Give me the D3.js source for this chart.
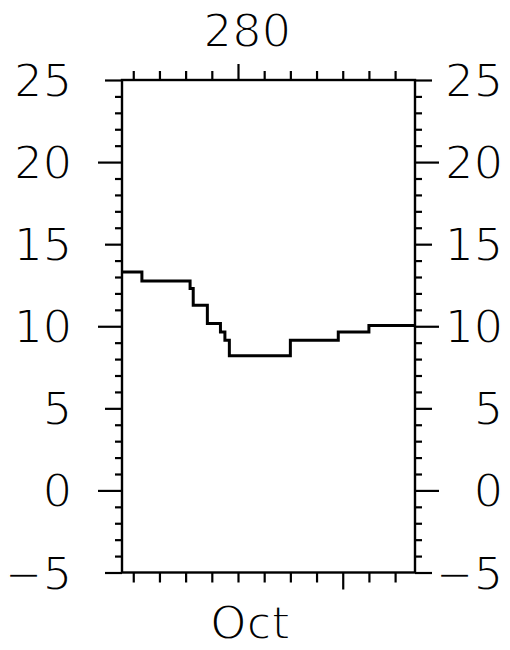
<!DOCTYPE html>
<html>
<head>
<meta charset="utf-8">
<script src="https://cdn.jsdelivr.net/npm/d3@7"></script>
<style>
  html, body { margin: 0; padding: 0; background: #fff; }
  svg { display: block; }
  .lbl { font-family: "DejaVu Sans", sans-serif; font-size: 46px; fill: #000; stroke: #fff; stroke-width: 1.8px; }
</style>
</head>
<body>
<svg id="chart" width="510" height="650"></svg>
<script>
// ---- data ----
const titleText = "280";
const xAxisLabel = "Oct";
const xTickDays = [276, 277, 278, 279, 280, 281, 282, 283, 284, 285, 286];
const xMajorTop = 280;
const xMajorBottom = 284;
const xDomain = [275.57, 286.76];
const yDomain = [-5, 25];
const yTickValues = d3.range(-5, 26, 1);
const yLabelValues = [-5, 0, 5, 10, 15, 20, 25];
const stepDays   = [275.57, 276.33, 278.17, 278.29, 278.83, 279.33, 279.5, 279.67, 282.0, 283.83, 285.0, 286.76];
const stepValues = [13.3,   12.75,  12.3,   11.28,  10.16,  9.65,   9.15,  8.2,    9.15,  9.65,   10.05, 10.05];

// ---- layout ----
const L = 122, R = 415, T = 80, B = 572.5;
const svg = d3.select("#chart");
const x = d3.scaleLinear().domain(xDomain).range([L, R]);
const y = d3.scaleLinear().domain(yDomain).range([B, T]);

function fmtY(v) { return yLabelValues.includes(v) ? (v < 0 ? "\u2212" + Math.abs(v) : String(v)) : ""; }
function ySize(v) { return v % 10 === 0 ? 24 : (v % 5 === 0 ? 17 : 7); }

// left axis
const gL = svg.append("g").attr("transform", `translate(${L},0)`)
  .call(d3.axisLeft(y).tickValues(yTickValues).tickSize(7).tickPadding(43).tickFormat(fmtY));
gL.selectAll(".tick line").attr("x2", d => -ySize(d));
// right axis
const gR = svg.append("g").attr("transform", `translate(${R},0)`)
  .call(d3.axisRight(y).tickValues(yTickValues).tickSize(7).tickPadding(81).tickFormat(fmtY));
gR.selectAll(".tick line").attr("x2", d => ySize(d));
gR.selectAll(".tick text").attr("text-anchor", "end");
// top axis
const gT = svg.append("g").attr("transform", `translate(0,${T})`)
  .call(d3.axisTop(x).tickValues(xTickDays).tickSize(9).tickFormat(""));
gT.selectAll(".tick line").attr("y2", d => d === xMajorTop ? -16 : -9);
// bottom axis
const gB = svg.append("g").attr("transform", `translate(0,${B})`)
  .call(d3.axisBottom(x).tickValues(xTickDays).tickSize(10).tickFormat(""));
gB.selectAll(".tick line").attr("y2", d => d === xMajorBottom ? 17 : 10);

svg.selectAll(".tick line").attr("stroke", "#000").attr("stroke-width", 2.2);
svg.selectAll(".tick text").attr("class", "lbl").attr("font-size", null).attr("font-family", null)
  .attr("fill", null).attr("dy", "0.36em");

// frame
svg.selectAll(".domain").remove();
svg.append("rect").attr("x", L).attr("y", T).attr("width", R - L).attr("height", B - T)
  .attr("fill", "none").attr("stroke", "#000").attr("stroke-width", 2.4);

// step line
const line = d3.line().x((d, i) => x(stepDays[i])).y((d, i) => y(stepValues[i])).curve(d3.curveStepAfter);
svg.append("path").datum(stepValues).attr("d", line)
  .attr("fill", "none").attr("stroke", "#000").attr("stroke-width", 3);

// title and x label
svg.append("text").attr("class", "lbl").attr("x", 247).attr("y", 47).attr("text-anchor", "middle").text(titleText);
svg.append("text").attr("class", "lbl").attr("x", 250).attr("y", 639).attr("text-anchor", "middle").text(xAxisLabel);
</script>
</body>
</html>
